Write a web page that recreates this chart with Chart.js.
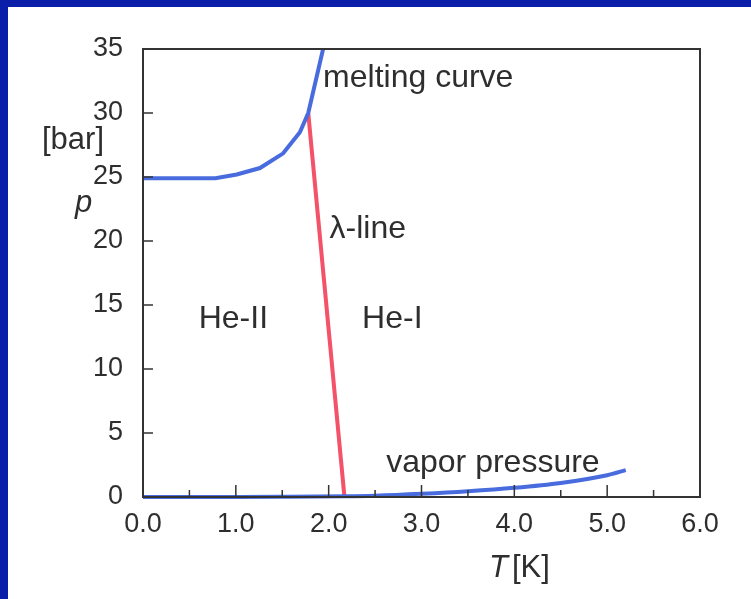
<!DOCTYPE html>
<html>
<head>
<meta charset="utf-8">
<title>He-4 phase diagram</title>
<script src="https://cdn.jsdelivr.net/npm/chart.js@4/dist/chart.umd.min.js"></script>
<style>
  html, body { margin: 0; padding: 0; background: #fff; }
  canvas { display: block; }
</style>
</head>
<body>
<canvas id="myChart" width="751" height="599"></canvas>
<script>
const meltT = [0, 0.78, 1.01, 1.26, 1.51, 1.69, 1.78, 1.94];
const meltP = [24.9, 24.9, 25.2, 25.7, 26.85, 28.5, 30.0, 35.0];

const lambdaT = [1.78, 2.17];
const lambdaP = [30.0, 0.0];

const vaporT = [0, 1.0, 1.5, 2.17, 2.5, 3.0, 3.5, 4.0, 4.5, 5.0, 5.2];
const vaporP = [0, 0, 0.01, 0.05, 0.1, 0.25, 0.45, 0.72, 1.1, 1.7, 2.1];

const xTicks = [0, 1, 2, 3, 4, 5, 6];
const yTicks = [0, 5, 10, 15, 20, 25, 30, 35];

const etiquetas = [
    { text: "melting curve", T: 1.94, p: 32.0 },
    { text: "\u03bb-line", T: 2.01, p: 20.2 },
    { text: "He-II", T: 0.60, p: 13.2 },
    { text: "He-I", T: 2.36, p: 13.2 },
    { text: "vapor pressure", T: 2.62, p: 1.95 }
];

const azul = "rgb(72, 108, 222)";
const rojo = "rgb(244, 82, 104)";
const texto = "#2e2e2e";
const fuente = "'Liberation Sans', Arial, sans-serif";

function puntos(xs, ys) {
    return xs.map((x, i) => ({ x: x, y: ys[i] }));
}

const fondo = {
    id: "fondo",
    beforeDraw(chart) {
        const ctx = chart.ctx;
        ctx.save();
        ctx.fillStyle = "#ffffff";
        ctx.fillRect(0, 0, chart.width, chart.height);
        ctx.fillStyle = "#0a1eaa";
        ctx.fillRect(0, 0, chart.width, 7);
        ctx.fillRect(0, 0, 8, chart.height);
        ctx.restore();
    }
};

const marco = {
    id: "marco",
    afterDraw(chart) {
        const ctx = chart.ctx;
        const a = chart.chartArea;
        const x = chart.scales.x;
        const y = chart.scales.y;
        ctx.save();
        ctx.strokeStyle = "#333";
        ctx.lineWidth = 2;
        ctx.strokeRect(a.left, a.top, a.right - a.left, a.bottom - a.top);

        // ticks hacia adentro
        ctx.lineWidth = 1.5;
        ctx.beginPath();
        for (let v = 0.5; v < 6; v += 0.5) {
            const px = x.getPixelForValue(v);
            const len = Number.isInteger(v) ? 12 : 7;
            ctx.moveTo(px, a.bottom);
            ctx.lineTo(px, a.bottom - len);
        }
        yTicks.slice(1, -1).forEach(v => {
            const py = y.getPixelForValue(v);
            ctx.moveTo(a.left, py);
            ctx.lineTo(a.left + 10, py);
        });
        ctx.stroke();

        ctx.fillStyle = texto;
        ctx.textBaseline = "alphabetic";
        ctx.textAlign = "left";
        ctx.font = "32px " + fuente;
        etiquetas.forEach(e => {
            ctx.fillText(e.text, x.getPixelForValue(e.T), y.getPixelForValue(e.p));
        });

        // titulos de ejes
        ctx.font = "31px " + fuente;
        ctx.fillText("[bar]", 42, 149);
        ctx.font = "italic 31px " + fuente;
        ctx.fillText("p", 75, 212);
        ctx.fillText("T", 489, 577);
        ctx.font = "31px " + fuente;
        ctx.fillText("[K]", 512, 577);
        ctx.restore();
    }
};

const data = {
    datasets: [
        {
            label: "lambda-line",
            data: puntos(lambdaT, lambdaP),
            borderColor: rojo,
            borderWidth: 4,
            pointRadius: 0,
            order: 2
        },
        {
            label: "melting curve",
            data: puntos(meltT, meltP),
            borderColor: azul,
            borderWidth: 4,
            pointRadius: 0,
            order: 1
        },
        {
            label: "vapor pressure",
            data: puntos(vaporT, vaporP),
            borderColor: azul,
            borderWidth: 4,
            pointRadius: 0,
            cubicInterpolationMode: "monotone",
            order: 1
        }
    ]
};

const config = {
    type: "line",
    data,
    options: {
        responsive: false,
        animation: false,
        clip: false,
        layout: { padding: { left: 0, top: 49, right: 51, bottom: 0 } },
        plugins: {
            legend: { display: false },
            tooltip: { enabled: false }
        },
        scales: {
            x: {
                type: "linear",
                min: 0,
                max: 6,
                afterFit(scale) { scale.height = 102; },
                afterBuildTicks(scale) { scale.ticks = xTicks.map(v => ({ value: v })); },
                grid: { display: false, drawTicks: false },
                border: { display: false },
                ticks: {
                    color: texto,
                    font: { family: fuente, size: 27 },
                    padding: 11,
                    maxRotation: 0,
                    autoSkip: false,
                    callback: v => v.toFixed(1)
                }
            },
            y: {
                type: "linear",
                min: 0,
                max: 35,
                afterFit(scale) { scale.width = 143; },
                afterBuildTicks(scale) { scale.ticks = yTicks.map(v => ({ value: v })); },
                grid: { display: false, drawTicks: false },
                border: { display: false },
                ticks: {
                    color: texto,
                    font: { family: fuente, size: 27 },
                    padding: 20,
                    autoSkip: false
                }
            }
        }
    },
    plugins: [fondo, marco]
};

new Chart(document.getElementById("myChart"), config);
</script>
</body>
</html>
